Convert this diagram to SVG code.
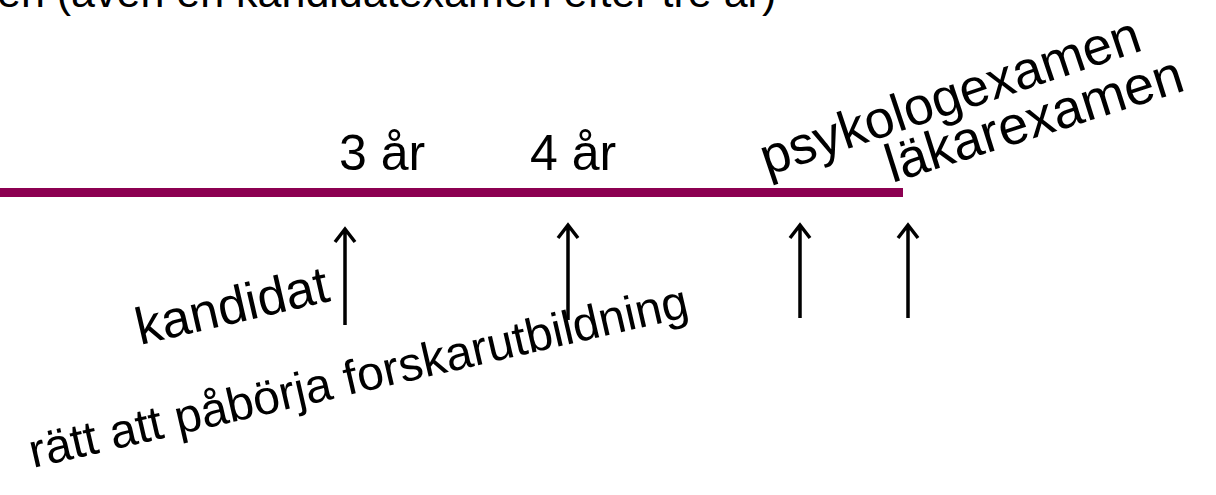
<svg xmlns="http://www.w3.org/2000/svg" width="1216" height="495" viewBox="0 0 1216 495">
<style>
.t{font-family:"Liberation Sans",Arial,sans-serif;fill:#000;}
.a{stroke:#000;stroke-width:3.5;fill:none;}
</style>
<rect width="1216" height="495" fill="#fff"/>
<g id="title"><text class="t" x="-3" y="7" font-size="43">en (även en kandidatexamen efter tre år)</text></g>
<g id="timeline"><rect x="0" y="188" width="903" height="9" fill="#8C0051"/></g>
<g id="label-3ar"><text class="t" x="339" y="170" font-size="50">3 år</text></g>
<g id="label-4ar"><text class="t" x="530" y="170" font-size="50">4 år</text></g>
<g id="label-psykolog"><text class="t" font-size="53" transform="translate(767,176) rotate(-18.5)">psykologexamen</text></g>
<g id="label-lakare"><text class="t" font-size="54" transform="translate(892,183) rotate(-17.5)">läkarexamen</text></g>
<g id="label-kandidat"><text class="t" font-size="52" transform="translate(140,345) rotate(-13)">kandidat</text></g>
<g id="label-forskar"><text class="t" font-size="48" transform="translate(33,468) rotate(-13)">rätt att påbörja forskarutbildning</text></g>
<g id="connectors">
<path class="a" d="M345,325V229M335,242L345,229L355,242"/>
<path class="a" d="M568,320V225M558,238L568,225L578,238"/>
<path class="a" d="M800,318V225M790,238L800,225L810,238"/>
<path class="a" d="M908,318V225M898,238L908,225L918,238"/>
</g>
</svg>
